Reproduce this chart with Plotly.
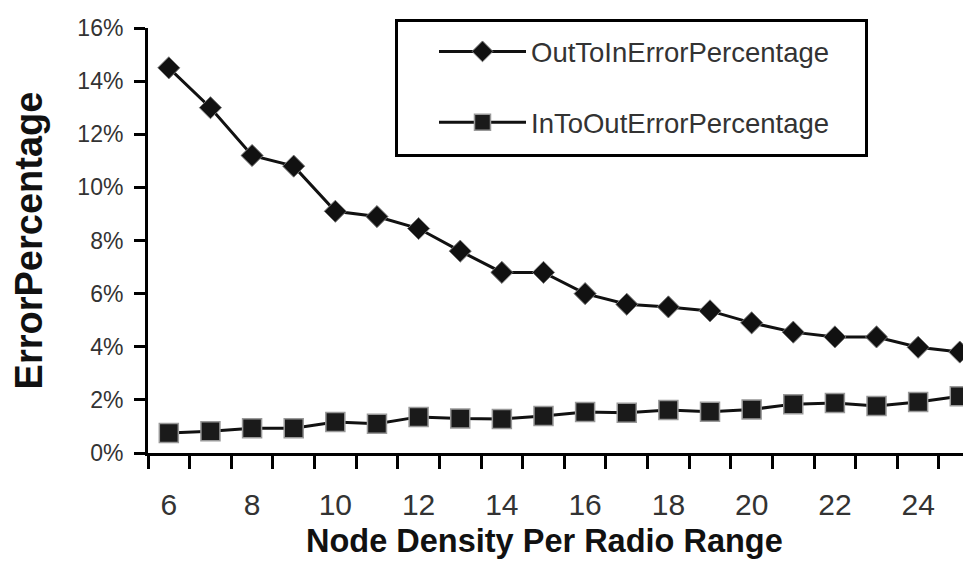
import plotly.graph_objects as go

density = list(range(6, 26))
out_to_in = [14.5, 13.0, 11.2, 10.8, 9.1, 8.9, 8.45, 7.6, 6.8, 6.8,
             6.0, 5.6, 5.5, 5.35, 4.9, 4.55, 4.37, 4.37, 3.98, 3.8]
in_to_out = [0.75, 0.82, 0.93, 0.93, 1.17, 1.1, 1.36, 1.3, 1.28, 1.39,
             1.54, 1.52, 1.62, 1.55, 1.64, 1.84, 1.88, 1.77, 1.92, 2.14]
x_tick_vals = list(range(6, 25, 2))
y_tick_vals = list(range(0, 17, 2))
y_tick_text = [f"{v}%" for v in y_tick_vals]
minor_ticks = [v + 0.5 for v in range(5, 25)]
x_title = "Node Density Per Radio Range"
y_title = "ErrorPercentage"

# page body has an 8px margin, so the figure is drawn 8px in from the corner
OFF = 8
PL, PR, PT, PB = 148 - OFF, 971 - OFF, 28 - OFF, 453 - OFF
W, H = 971 - OFF, 561 - OFF
PW, PH = PR - PL, PB - PT


def px(x):
    return (x - OFF - PL) / PW


def py(y):
    return (PB - (y - OFF)) / PH


fig = go.Figure()
fig.add_trace(go.Scatter(
    x=density, y=out_to_in, name="OutToInErrorPercentage", mode="lines+markers",
    line=dict(color="#111111", width=3),
    marker=dict(symbol="diamond", size=17, color="#111111",
                line=dict(color="#777777", width=1)),
    legendgroup="a"))
fig.add_trace(go.Scatter(
    x=density, y=in_to_out, name="InToOutErrorPercentage", mode="lines+markers",
    line=dict(color="#111111", width=3),
    marker=dict(symbol="square", size=19, color="#1a1a1a",
                line=dict(color="#999999", width=1.5)),
    legendgroup="b"))

# legend frame
fig.add_shape(type="rect", xref="paper", yref="paper",
              x0=px(396.5), x1=px(866.5), y0=py(155.5), y1=py(20.5),
              line=dict(color="black", width=3), fillcolor="rgba(0,0,0,0)")

fig.add_annotation(text=x_title, xref="paper", yref="paper",
                   x=px(544), y=py(541), xanchor="center", yanchor="middle",
                   showarrow=False,
                   font=dict(family="Liberation Sans, Arial", size=32.5,
                             color="#111111", weight="bold"))

fig.update_layout(
    width=W, height=H,
    margin=dict(l=PL, r=W - PR, t=PT, b=H - PB),
    paper_bgcolor="white", plot_bgcolor="white",
    font=dict(family="Liberation Sans, Arial, sans-serif", color="#333333"),
    showlegend=True,
    legend=dict(
        x=px(431), y=py(24), xanchor="left", yanchor="top",
        bordercolor="rgba(0,0,0,0)", borderwidth=3, bgcolor="rgba(0,0,0,0)",
        font=dict(family="Liberation Sans, Arial", size=27.5, color="#333333"),
        itemwidth=87, tracegroupgap=32,
    ),
    xaxis=dict(
        range=[5.5, 5.5 + PW / 41.63], tickmode="array", tickvals=x_tick_vals,
        ticks="", ticklabelstandoff=23, showgrid=False, zeroline=False,
        showline=True, linecolor="black", linewidth=3, automargin=False,
        tickfont=dict(family="Liberation Sans, Arial", size=30, color="#333333"),
        minor=dict(tickmode="array", tickvals=minor_ticks, ticks="outside",
                   ticklen=13, tickwidth=3, tickcolor="black", showgrid=False),
    ),
    yaxis=dict(
        range=[0, 16], tickmode="array", tickvals=y_tick_vals, ticktext=y_tick_text,
        ticks="outside", ticklen=11, tickwidth=3, tickcolor="black",
        ticklabelstandoff=6, showgrid=False, zeroline=False,
        showline=True, linecolor="black", linewidth=3, automargin=False,
        tickfont=dict(family="Liberation Sans, Arial", size=23, color="#333333"),
        title=dict(text=y_title, standoff=44,
                   font=dict(family="Liberation Sans, Arial", size=38, color="#111111", weight="bold")),
    ),
)

fig.write_html("out.html")
